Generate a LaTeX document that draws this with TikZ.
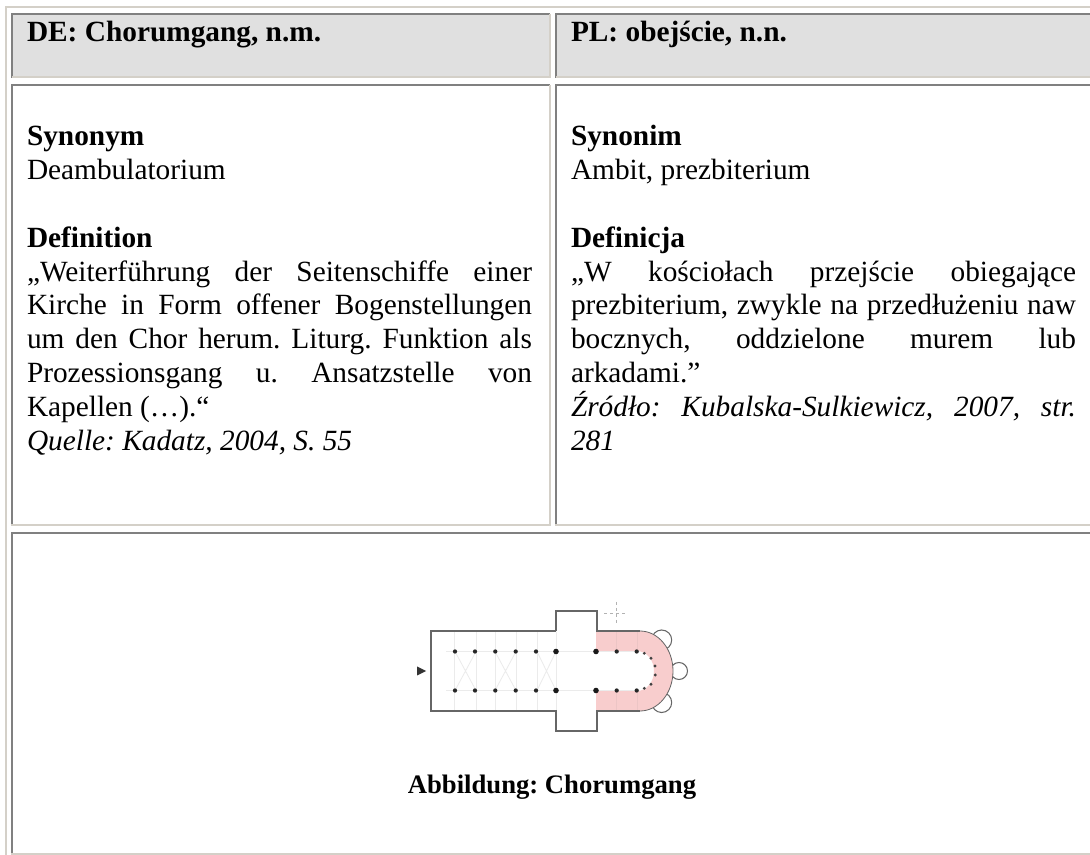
\documentclass[tikz,border=0pt]{standalone}
\usepackage{fontspec}
\setmainfont{Liberation Serif}
\frenchspacing
\definecolor{beige}{HTML}{D4D0C8}
\definecolor{edge}{HTML}{808080}
\definecolor{head}{HTML}{E0E0E0}
\definecolor{pinkarea}{HTML}{F8CDCD}
\definecolor{faint}{HTML}{EBEBEB}
\definecolor{wall}{HTML}{666666}
\tikzset{
  x=0.75pt,y=-0.75pt,
  txt/.style={anchor=base west,inner sep=0pt,outer sep=0pt,font=\fontsize{22}{25}\selectfont\frenchspacing},
  beigeline/.style={draw=beige,line width=1.5pt},
  greyline/.style={draw=edge,line width=1.5pt},
  wallline/.style={draw=wall,line width=1.1pt},
  faintline/.style={draw=faint,line width=0.6pt},
  pier/.style={circle,fill=black!85,inner sep=0pt,minimum size=3.2pt},
  bigpier/.style={circle,fill=black!90,inner sep=0pt,minimum size=4.2pt},
  smallpier/.style={circle,fill=black!75,inner sep=0pt,minimum size=2.4pt}
}
\newcommand{\LW}{378.75pt}
\newcommand{\RW}{378.75pt}
\newcommand{\jl}[2]{\hbox to #1{#2}}
\begin{document}
\begin{tikzpicture}
\useasboundingbox (0,0) rectangle (1090,855);
\fill[white] (0,0) rectangle (1090,855);
% header fills
\fill[head] (13,15) rectangle (549,76);
\fill[head] (557,15) rectangle (1090,76);
% outer table
\draw[beigeline] (6,855) -- (6,7) -- (1090,7);
% header left
\draw[greyline] (12,78) -- (12,14) -- (550,14);
\draw[beigeline] (12,77) -- (550,77);
\draw[beigeline] (550,14) -- (550,78);
% header right
\draw[greyline] (556,78) -- (556,14) -- (1090,14);
\draw[beigeline] (556,77) -- (1090,77);
% body left
\draw[greyline] (12,526) -- (12,85) -- (550,85);
\draw[beigeline] (11,525) -- (551,525);
\draw[beigeline] (550,85) -- (550,526);
% body right
\draw[greyline] (556,526) -- (556,85) -- (1090,85);
\draw[beigeline] (555,525) -- (1090,525);
% figure cell
\draw[greyline] (12,855) -- (12,533) -- (1090,533);
\draw[beigeline] (11,854) -- (1090,854);
% headers
\node[txt] (h1) at (27,42) {\bfseries DE: Chorumgang, n.m.};
\node[txt] (h2) at (571,42) {\bfseries PL: obejście, n.n.};
% left text
\node[txt] (l1) at (27,146) {\bfseries Synonym};
\node[txt] (l2) at (27,179.8) {Deambulatorium};
\node[txt] (l3) at (27,247.4) {\bfseries Definition};
\node[txt] (l4) at (27,281.2) {\jl{\LW}{„Weiterführung der Seitenschiffe einer}};
\node[txt] (l5) at (27,315) {\jl{\LW}{Kirche in Form offener Bogenstellungen}};
\node[txt] (l6) at (27,348.8) {\jl{\LW}{um den Chor herum. Liturg. Funktion als}};
\node[txt] (l7) at (27,382.6) {\jl{\LW}{Prozessionsgang u. Ansatzstelle von}};
\node[txt] (l8) at (27,416.4) {Kapellen (…).“};
\node[txt] (l9) at (27,450.2) {\itshape Quelle: Kadatz, 2004, S. 55};
% right text
\node[txt] (r1) at (571,146) {\bfseries Synonim};
\node[txt] (r2) at (571,179.8) {Ambit, prezbiterium};
\node[txt] (r3) at (571,247.4) {\bfseries Definicja};
\node[txt] (r4) at (571,281.2) {\jl{\RW}{„W kościołach przejście obiegające}};
\node[txt] (r5) at (571,315) {\jl{\RW}{prezbiterium, zwykle na przedłużeniu naw}};
\node[txt] (r6) at (571,348.8) {\jl{\RW}{bocznych, oddzielone murem lub}};
\node[txt] (r7) at (571,382.6) {arkadami.”};
\node[txt] (r8) at (571,416.4) {\itshape\jl{\RW}{Źródło: Kubalska-Sulkiewicz, 2007, str.}};
\node[txt] (r9) at (571,450.2) {\itshape 281};
% floor plan
\draw[wallline,line width=0.8pt] (661.7,640) circle[radius=10];
\draw[wallline,line width=0.8pt] (679,671) circle[radius=8.5];
\draw[wallline,line width=0.8pt] (661.7,702.5) circle[radius=10];
\fill[pinkarea] (596,631) -- (640,631) arc[start angle=-90,end angle=90,x radius=33,y radius=40] -- (596,711) -- (596,691) -- (637,691) arc[start angle=90,end angle=-90,x radius=17,y radius=20] -- (596,651) -- cycle;
\foreach \vx in {454,476,495,516,537,556} {\draw[faintline] (\vx,632) -- (\vx,710);}
\foreach \vx in {616,637} {\draw[draw=pinkarea!90!gray,line width=0.5pt] (\vx,632) -- (\vx,651) (\vx,691) -- (\vx,710);}
\foreach \vy in {651.5,690.5} {\draw[faintline] (446,\vy) -- (640,\vy);}
\draw[faintline] (455,651.5) -- (476,690.5) (476,651.5) -- (455,690.5) (495,651.5) -- (516,690.5) (516,651.5) -- (495,690.5) (537,651.5) -- (556,690.5) (556,651.5) -- (537,690.5);
\draw[wallline] (556,631) -- (431,631) -- (431,711) -- (556,711) -- (556,731) -- (597,731) -- (597,711) -- (640,711);
\draw[wallline] (556,631) -- (556,611) -- (597,611) -- (597,631) -- (640,631);
\draw[wallline,line width=0.6pt] (640,631) arc[start angle=-90,end angle=90,x radius=33,y radius=40];
\fill[black!80] (417,666.5) -- (426,671) -- (417,675.5) -- cycle;
% compass
\draw[draw=black!30,line width=0.4pt,dash pattern=on 2.5pt off 2pt] (616,602) -- (616,623) (604,613) -- (627,613);
% piers
\foreach \nm/\vx in {a/455,b/475,c/495.3,d/515.7,e/536,h/616.7,i/636.7} {
  \node[pier] (pt\nm) at (\vx,651.5) {};
  \node[pier] (pb\nm) at (\vx,690.5) {};
}
\foreach \nm/\vx in {f/556,g/596} {
  \node[bigpier] (pt\nm) at (\vx,651.5) {};
  \node[bigpier] (pb\nm) at (\vx,690.5) {};
}
\foreach \nm/\vx/\vy in {a/644.3/653.3,b/651/658.3,c/655/666,d/655.3/675,e/651/684.3,f/644.3/688.3} {
  \node[smallpier] (ap\nm) at (\vx,\vy) {};
}
\node[txt,anchor=base,font=\fontsize{20}{24}\selectfont\bfseries\frenchspacing] (cap) at (552,793) {Abbildung: Chorumgang};
\end{tikzpicture}
\end{document}
